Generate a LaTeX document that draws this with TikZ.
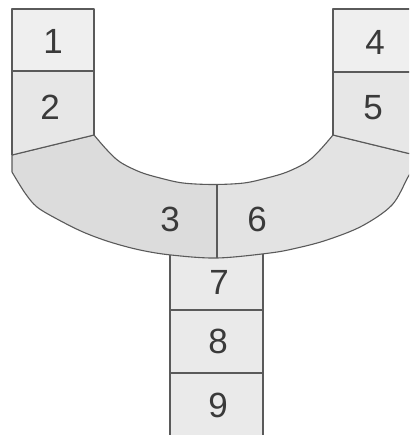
\documentclass[tikz,border=0pt]{standalone}
\usepackage{fontspec}
\setmainfont{Liberation Sans}
\definecolor{edgegray}{HTML}{5A5A5A}
\definecolor{txtgray}{HTML}{3A3A3A}
\definecolor{fillA}{HTML}{EFEFEF}
\definecolor{fillB}{HTML}{E7E7E7}
\definecolor{fillC}{HTML}{DCDCDC}
\definecolor{fillD}{HTML}{E3E3E3}
\definecolor{fillE}{HTML}{EAEAEA}
\tikzset{
  edge/.style={draw=edgegray, line width=1.1pt, line join=round},
  num/.style={text=txtgray, font=\fontsize{35}{35}\selectfont, inner sep=0pt}
}
\def\Ushape{(12,155) -- (94,135) -- plot[smooth, tension=0.55] coordinates {(94,135) (107,150) (120,162) (140,172) (160,178) (183,183) (213.5,184.5) (244,183) (267,178) (287,172) (307,162) (320,150) (333,135)} -- (415,155) -- (415,166) -- plot[smooth, tension=0.55] coordinates {(415,166) (408,177) (392,205) (362,226) (327,240) (297,248) (270,253) (217,258) (171,255) (140,250) (110,242) (83,232) (57,219) (37,207) (25,193) (12,172)} -- cycle}
\begin{document}
\begin{tikzpicture}[x=1pt,y=-1pt]
\useasboundingbox (0,0) rectangle (409,435);
\clip (0,0) rectangle (409,435);
\fill[white] (0,0) rectangle (409,435);
% stem
\fill[fillE] (170,250) rectangle (263,440);
\draw[edge] (170,252) -- (170,440);
\draw[edge] (263,252) -- (263,440);
\draw[edge] (170,310) -- (263,310);
\draw[edge] (170,373) -- (263,373);
% U-shaped band
\fill[fillD] \Ushape;
\begin{scope}
  \clip (0,100) rectangle (217,300);
  \fill[fillC] \Ushape;
\end{scope}
% band outline
\draw[edge] \Ushape;
\draw[edge] (217,184.3) -- (217,258);
% left boxes
\fill[fillA] (12,9) rectangle (94,71);
\fill[fillB] (12,71) -- (94,71) -- (94,135) -- (12,155) -- cycle;
\draw[edge] (12,155) -- (12,9) -- (94,9) -- (94,135);
\draw[edge] (12,71) -- (94,71);
% right boxes
\fill[fillA] (333,9) rectangle (415,72);
\fill[fillB] (333,72) -- (415,72) -- (415,155) -- (333,135) -- cycle;
\draw[edge] (333,135) -- (333,9) -- (415,9) -- (415,155);
\draw[edge] (333,72) -- (415,72);
\draw[edge] (12,155) -- (94,135);
\draw[edge] (333,135) -- (415,155);
% labels
\node[num] (n1) at (53,41) {1};
\node[num] (n2) at (50,107) {2};
\node[num] (n4) at (375,42) {4};
\node[num] (n5) at (373,108) {5};
\node[num] (n3) at (170,219) {3};
\node[num] (n6) at (257,219) {6};
\node[num] (n7) at (219,282) {7};
\node[num] (n8) at (218,341) {8};
\node[num] (n9) at (218,405) {9};
\end{tikzpicture}
\end{document}
